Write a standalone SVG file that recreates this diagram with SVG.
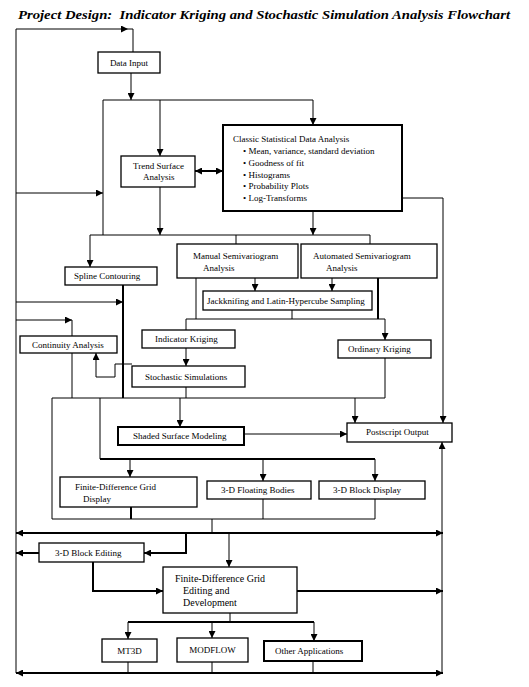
<svg xmlns="http://www.w3.org/2000/svg" width="529" height="687" viewBox="0 0 529 687">
<style>
.bx{fill:#fff;stroke:#000;stroke-width:1.3}
.tk{stroke-width:2}
.t{font-family:"Liberation Serif","Times New Roman",serif;font-size:9px;fill:#000}
.ttl{font-family:"Liberation Serif","Times New Roman",serif;font-size:13px;font-weight:bold;font-style:italic;fill:#000}
#connectors path{fill:none;stroke:#000;stroke-width:1}
#connectors path.th{stroke-width:2}
</style>
<defs>
<marker id="a" viewBox="0 0 7 7" refX="7" refY="3.5" markerWidth="7" markerHeight="7" markerUnits="userSpaceOnUse" orient="auto-start-reverse"><path d="M0,0 L7,3.5 L0,7 z" fill="#000"/></marker>
</defs>
<rect width="529" height="687" fill="#fff"/>
<text class="ttl" x="18" y="19" textLength="492" lengthAdjust="spacingAndGlyphs" xml:space="preserve">Project Design:  Indicator Kriging and Stochastic Simulation Analysis Flowchart</text>

<g id="connectors">
<path d="M16,673 V29 H128" marker-end="url(#a)"/>
<path d="M128,29 H133 V52"/>
<path d="M131,73 V100" marker-end="url(#a)"/>
<path d="M103,100 H313"/>
<path d="M103,100 V235"/>
<path d="M160,100 V156" marker-end="url(#a)"/>
<path d="M313,100 V125" marker-end="url(#a)"/>
<path d="M195,171 H223" class="th" marker-start="url(#a)" marker-end="url(#a)"/>
<path d="M160,187 V235" marker-end="url(#a)"/>
<path d="M313,211 V235" marker-end="url(#a)"/>
<path d="M402,198 H443 V423" marker-end="url(#a)"/>
<path d="M16,193 H103" marker-end="url(#a)"/>
<path d="M90,235 H370"/>
<path d="M90,235 V267" marker-end="url(#a)"/>
<path d="M236,235 V244"/>
<path d="M370,235 V244"/>
<path d="M123,285 V398" class="th"/>
<path d="M16,302 H123" marker-end="url(#a)"/>
<path d="M16,320 H72" marker-end="url(#a)"/>
<path d="M72,320 V336"/>
<path d="M72,353 V398"/>
<path d="M132,364 H115 V377 H96 V353" marker-end="url(#a)"/>
<path d="M255,278 V291" marker-end="url(#a)"/>
<path d="M332,278 V291" marker-end="url(#a)"/>
<path d="M196,278 V319"/>
<path d="M292,310 V319"/>
<path d="M378,278 V319" class="th"/>
<path d="M186,319 H385 V340" marker-end="url(#a)"/>
<path d="M186,319 V330"/>
<path d="M186,348 V366" marker-end="url(#a)"/>
<path d="M186,387 V398"/>
<path d="M385,358 V398"/>
<path d="M385,398 H52 V519 H375"/>
<path d="M355,398 V423" marker-end="url(#a)"/>
<path d="M180,398 V427" marker-end="url(#a)"/>
<path d="M100,398 V459"/>
<path d="M100,459 H375" class="th"/>
<path d="M130,459 V477" marker-end="url(#a)"/>
<path d="M263,459 V481" marker-end="url(#a)"/>
<path d="M375,459 V481" marker-end="url(#a)"/>
<path d="M244,434 H347" marker-end="url(#a)"/>
<path d="M131,507 V519" class="th"/>
<path d="M263,499 V519"/>
<path d="M375,499 V519"/>
<path d="M212,519 V533"/>
<path d="M16,533 H443" class="th" marker-start="url(#a)" marker-end="url(#a)"/>
<path d="M186,533 V553 H144" class="th" marker-end="url(#a)"/>
<path d="M39,553 H16" class="th" marker-end="url(#a)"/>
<path d="M229,533 V567" marker-end="url(#a)"/>
<path d="M93,562 V591 H163" class="th" marker-end="url(#a)"/>
<path d="M297,591 H443" class="th" marker-end="url(#a)"/>
<path d="M230,613 V622"/>
<path d="M128,622 H314" class="th"/>
<path d="M128,622 V639" marker-end="url(#a)"/>
<path d="M212,622 V638" marker-end="url(#a)"/>
<path d="M314,622 V641" marker-end="url(#a)"/>
<path d="M128,662 V673"/>
<path d="M212,662 V673"/>
<path d="M313,661 V673"/>
<path d="M16,673 H443" class="th" marker-start="url(#a)" marker-end="url(#a)"/>
<path d="M442,673 V442" marker-end="url(#a)"/>
</g>

<g id="data-input"><rect class="bx" x="98" y="52" width="62" height="21"/><text class="t" x="129" y="65.5" text-anchor="middle">Data Input</text></g>
<g id="trend-surface"><rect class="bx" x="121" y="156" width="74" height="31"/><text class="t" x="133" y="169">Trend Surface</text><text class="t" x="143" y="180">Analysis</text></g>
<g id="classic-stats"><rect class="bx tk" x="223" y="125" width="179" height="86"/>
<text class="t" x="233" y="142">Classic Statistical Data Analysis</text>
<text class="t" x="243" y="154">• Mean, variance, standard deviation</text>
<text class="t" x="243" y="166">• Goodness of fit</text>
<text class="t" x="243" y="178">• Histograms</text>
<text class="t" x="243" y="189">• Probability Plots</text>
<text class="t" x="243" y="201">• Log-Transforms</text></g>
<g id="manual-semivariogram"><rect class="bx" x="177" y="244" width="121" height="34"/><text class="t" x="193" y="259">Manual Semivariogram</text><text class="t" x="203" y="271">Analysis</text></g>
<g id="automated-semivariogram"><rect class="bx" x="301" y="244" width="136" height="34"/><text class="t" x="313" y="259">Automated Semivariogram</text><text class="t" x="326" y="271">Analysis</text></g>
<g id="jackknifing"><rect class="bx" x="203" y="291" width="169" height="19"/><text class="t" x="207" y="304">Jackknifing and Latin-Hypercube Sampling</text></g>
<g id="spline"><rect class="bx" x="65" y="267" width="92" height="18"/><text class="t" x="74" y="279">Spline Contouring</text></g>
<g id="continuity"><rect class="bx" x="20" y="336" width="97" height="17"/><text class="t" x="32" y="348">Continuity Analysis</text></g>
<g id="indicator-kriging"><rect class="bx" x="142" y="330" width="93" height="18"/><text class="t" x="155" y="342">Indicator Kriging</text></g>
<g id="stochastic"><rect class="bx" x="132" y="366" width="113" height="21"/><text class="t" x="145" y="380">Stochastic Simulations</text></g>
<g id="ordinary-kriging"><rect class="bx" x="338" y="340" width="93" height="18"/><text class="t" x="348" y="352">Ordinary Kriging</text></g>
<g id="shaded-surface"><rect class="bx tk" x="118" y="427" width="126" height="18"/><text class="t" x="133" y="439">Shaded Surface Modeling</text></g>
<g id="postscript"><rect class="bx" x="347" y="423" width="105" height="19"/><text class="t" x="366" y="435">Postscript Output</text></g>
<g id="fd-grid-display"><rect class="bx" x="60" y="477" width="137" height="30"/><text class="t" x="75" y="490">Finite-Difference Grid</text><text class="t" x="83" y="502">Display</text></g>
<g id="floating-bodies"><rect class="bx" x="207" y="481" width="104" height="18"/><text class="t" x="221" y="493">3-D Floating Bodies</text></g>
<g id="block-display"><rect class="bx" x="319" y="481" width="106" height="18"/><text class="t" x="333" y="493">3-D Block Display</text></g>
<g id="block-editing"><rect class="bx" x="39" y="543" width="105" height="19"/><text class="t" x="55" y="556">3-D Block Editing</text></g>
<g id="fd-grid-editing"><rect class="bx" x="163" y="567" width="134" height="46"/><text class="t" x="175" y="582" style="font-size:10px">Finite-Difference Grid</text><text class="t" x="183" y="594" style="font-size:10px">Editing and</text><text class="t" x="183" y="606" style="font-size:10px">Development</text></g>
<g id="mt3d"><rect class="bx" x="102" y="639" width="55" height="23"/><text class="t" x="129.5" y="654" text-anchor="middle">MT3D</text></g>
<g id="modflow"><rect class="bx" x="177" y="638" width="71" height="24"/><text class="t" x="212.5" y="653" text-anchor="middle">MODFLOW</text></g>
<g id="other-apps"><rect class="bx tk" x="264" y="641" width="98" height="20"/><text class="t" x="275" y="654">Other Applications</text></g>
</svg>
